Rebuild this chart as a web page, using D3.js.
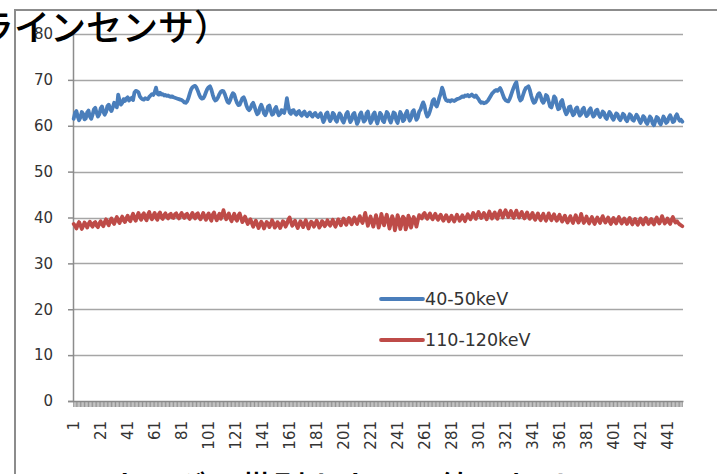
<!DOCTYPE html>
<html><head><meta charset="utf-8">
<script src="https://cdn.jsdelivr.net/npm/d3@7"></script>
<style>
html,body{margin:0;padding:0;background:#fff;overflow:hidden;}
svg{display:block;}
</style></head>
<body>
<svg id="c" width="717" height="474"></svg>
<script>
const seriesNames = ["40-50keV", "110-120keV"];
const seriesColors = ["#4A7EBB", "#BE4B48"];
const yTicks = [0, 10, 20, 30, 40, 50, 60, 70, 80];
const xTickLabels = ["1","21","41","61","81","101","121","141","161","181","201","221","241","261","281","301","321","341","361","381","401","421","441"];
const titleText = "ラインセンサ）";
const footerText = "エネルギー帯別カウント値における";

const blue = [
61.5,62.8,63.2,62.0,61.2,61.8,63.0,62.6,61.4,61.6,62.9,63.3,
62.0,61.5,62.4,63.6,63.9,62.8,62.0,62.5,63.8,64.2,63.0,62.4,63.0,64.3,64.6,
63.6,63.2,64.0,65.0,64.8,64.0,66.8,65.5,64.6,65.0,65.8,
65.4,65.9,66.2,65.5,65.8,66.1,65.6,
67.2,67.6,67.5,67.3,66.4,
66.0,65.8,65.7,66.0,65.9,65.8,66.3,
66.6,66.9,66.7,67.3,68.3,67.0,66.8,67.2,
66.8,66.9,66.6,66.7,66.5,66.6,66.4,66.3,66.4,66.2,66.1,66.0,65.9,65.8,65.7,65.6,65.4,
65.1,65.0,65.3,66.0,67.0,67.9,68.4,68.6,
68.7,
68.3,67.6,66.8,66.2,65.9,66.0,66.5,67.3,68.0,68.4,
68.6,
67.9,66.8,65.9,65.5,65.7,66.2,66.9,67.4,67.6,67.5,
66.9,66.0,65.2,65.0,65.6,66.5,67.1,66.8,65.8,65.0,64.5,
64.6,65.3,66.0,66.2,65.5,64.4,63.7,63.4,63.8,64.6,65.0,
64.2,63.2,62.5,62.8,63.9,64.6,63.8,62.7,62.3,63.0,64.2,64.4,63.3,62.4,62.6,63.6,64.1,63.0,62.3,
62.6,63.4,63.0,62.8,64.0,66.0,64.2,
62.9,62.6,63.3,63.4,62.7,62.4,63.0,63.2,62.5,62.2,62.8,63.1,62.4,62.1,62.6,62.9,62.3,62.0,62.5,62.8,62.2,61.9,
62.3,62.7,61.8,60.8,61.4,62.6,62.9,61.8,61.0,61.6,62.8,62.5,61.3,60.9,61.9,62.7,62.3,61.2,
60.7,61.5,62.6,63.0,61.7,60.8,61.3,62.5,62.8,61.5,60.4,61.0,62.4,62.9,61.8,60.9,61.2,62.7,63.1,61.6,
60.6,61.2,62.5,62.9,61.4,60.5,61.6,62.8,62.4,61.1,60.8,61.9,63.0,62.6,61.3,
60.7,61.7,62.9,62.7,61.2,60.6,61.8,63.0,62.4,61.0,61.3,62.6,63.2,62.0,61.1,61.7,63.0,63.4,62.2,61.3,61.8,63.1,
63.5,64.4,65.1,64.3,62.8,62.0,62.4,63.2,
64.2,65.4,65.8,64.6,64.2,65.0,66.2,67.0,
68.3,
67.5,66.2,65.6,65.4,65.5,65.3,65.6,65.5,65.4,65.6,65.8,65.9,
66.0,66.2,66.4,66.3,66.6,66.5,66.7,66.4,66.6,66.8,66.5,66.3,66.6,66.2,65.8,
65.3,65.0,65.1,64.9,65.0,65.2,65.5,
66.0,66.5,67.0,67.3,67.6,67.8,67.6,67.9,68.2,
67.6,66.8,66.0,65.6,65.4,
65.3,65.8,66.6,67.5,68.3,69.0,69.5,
67.8,66.2,65.5,65.8,66.7,67.6,68.2,68.4,
68.6,
67.8,66.6,65.6,65.0,65.2,66.0,66.8,
67.1,66.5,65.4,65.0,65.6,66.7,66.4,65.3,
64.2,64.0,65.0,66.4,66.0,64.6,63.6,63.8,65.2,65.6,64.3,
63.2,62.5,63.0,64.1,64.2,63.1,62.3,62.6,63.7,64.0,63.0,62.2,62.5,63.6,63.9,62.8,62.1,62.4,63.4,63.8,62.7,62.0,62.3,63.3,63.5,62.5,
61.9,62.4,63.1,62.8,61.8,61.5,62.3,63.0,62.6,61.7,61.3,62.0,62.7,62.5,61.6,61.2,61.8,62.6,62.3,61.4,61.0,61.7,62.5,62.2,61.3,61.1,61.8,62.4,62.0,61.2,
60.6,61.2,62.1,61.8,60.8,60.4,61.2,62.0,61.6,60.5,60.1,61.0,61.9,61.7,60.7,60.3,61.1,62.0,61.5,60.6,60.9,61.8,62.3,61.6,60.8,61.0,62.0,62.5,61.7,61.1,61.3,60.9
];

const red = [
38.6,38.2,37.6,38.4,39.0,38.3,37.5,38.1,38.9,38.5,37.8,38.6,39.1,38.4,38.0,38.8,39.0,38.2,37.9,38.7,
39.2,38.5,38.1,39.0,39.6,38.8,38.3,39.3,39.8,39.0,38.6,39.4,40.1,39.3,38.8,39.6,40.2,39.4,39.0,39.8,40.4,39.5,
39.2,40.1,40.8,39.8,39.3,40.3,41.0,40.1,39.5,40.5,40.9,39.9,39.4,40.6,41.2,40.2,39.6,40.4,41.0,40.0,39.5,40.7,41.1,
40.0,39.7,40.5,40.9,40.1,39.8,40.6,40.8,40.0,39.9,40.7,40.9,40.2,39.8,40.5,41.0,40.3,39.9,40.6,40.8,40.1,39.7,40.4,41.0,40.2,39.8,40.7,40.9,40.0,39.6,
40.3,41.0,40.2,39.5,40.4,40.9,39.9,39.3,40.6,41.1,40.1,39.4,40.2,40.8,39.7,40.5,41.6,40.4,39.6,40.3,40.9,39.8,39.2,40.1,40.8,39.7,39.3,40.4,40.9,39.9,39.0,39.6,40.2,39.3,38.6,39.2,39.6,
38.8,38.0,38.7,39.3,38.5,37.7,38.4,39.1,38.6,37.6,38.3,39.0,38.7,37.9,38.5,39.4,38.8,37.8,38.2,39.0,38.6,37.7,38.4,39.2,38.9,38.0,38.6,39.5,40.0,
39.0,38.2,38.8,39.3,38.4,37.7,38.5,39.2,38.6,37.9,38.7,39.4,38.5,37.6,38.4,39.1,38.8,38.0,38.6,39.3,38.7,37.8,38.3,39.2,38.9,38.1,38.5,39.4,38.8,38.2,
38.9,39.5,38.6,38.0,38.8,39.6,39.0,38.3,39.1,39.8,39.0,38.4,39.2,39.9,39.1,38.5,39.3,40.0,39.2,38.6,39.5,40.3,39.4,38.8,39.7,41.0,39.6,38.2,39.4,40.2,39.0,38.0,39.1,40.5,39.3,37.8,38.9,40.8,39.5,38.3,39.6,40.6,39.2,37.6,
38.8,40.3,39.4,37.2,38.5,40.5,39.6,37.5,38.6,40.2,39.8,37.4,38.3,40.4,39.7,37.8,38.9,40.1,39.2,38.0,39.4,40.5,40.0,
39.8,40.6,41.0,40.2,39.7,40.4,40.9,40.1,39.6,40.3,40.8,40.0,39.5,40.2,
40.6,39.8,39.3,39.9,40.5,39.9,39.2,39.8,40.4,39.7,39.1,39.9,40.6,40.0,39.3,39.8,40.5,39.8,39.2,40.0,40.7,40.1,39.6,
40.3,41.0,40.4,39.7,40.5,41.2,40.6,39.9,40.4,41.0,40.3,39.6,40.5,41.3,40.5,39.8,40.6,41.1,40.2,39.7,40.8,41.5,40.7,40.0,40.9,41.6,40.8,40.1,40.7,41.4,40.5,39.9,40.8,41.5,40.6,40.0,40.7,41.2,40.4,39.8,40.5,41.1,40.3,39.7,
40.4,41.0,40.1,39.5,40.3,40.9,40.0,39.4,40.2,40.8,39.9,39.3,40.1,40.9,40.0,39.4,40.2,40.7,39.8,39.3,40.0,40.6,
39.7,39.1,39.8,40.4,39.5,38.9,39.6,40.3,39.4,38.8,39.7,40.5,39.6,38.9,39.5,40.8,39.7,38.8,39.4,40.2,39.3,38.7,39.5,40.1,39.2,38.6,39.3,40.0,39.4,38.8,39.6,40.3,39.5,38.9,39.4,40.0,39.2,38.6,39.3,39.9,39.1,38.7,39.5,40.1,39.3,
38.7,39.2,39.8,39.1,38.6,39.3,39.9,39.0,38.5,39.2,39.7,38.9,38.4,39.1,39.8,39.0,38.5,39.3,39.9,39.1,38.6,39.2,39.7,38.9,38.5,39.4,40.0,39.2,38.7,39.3,40.3,39.4,38.7,39.1,39.8,39.0,38.6,39.5,40.1,39.3,38.9,39.2,38.8,38.5,38.3,38.1
];

const allSeries = [blue, red];
const N = Math.max(blue.length, red.length);
const categories = d3.range(1, N + 1);

const svg = d3.select("#c");
const plot = {left: 73, right: 683, top: 34, bottom: 401};
const labelFont = "DejaVu Sans, Verdana, sans-serif";

const x = d3.scaleBand().domain(categories).range([plot.left, plot.right]);
const y = d3.scaleLinear().domain([0, 80]).range([plot.bottom, plot.top]);
const cx = d => x(d) + x.bandwidth() / 2;

// frame
svg.append("path")
  .attr("d", `M15,474 L15,10 L717,10`)
  .attr("fill", "none").attr("stroke", "#8c8c8c").attr("stroke-width", 2);

// gridlines
svg.append("g").selectAll("line").data(yTicks.filter(t => t > 0)).join("line")
  .attr("x1", plot.left).attr("x2", plot.right)
  .attr("y1", d => Math.round(y(d)) + 0.5).attr("y2", d => Math.round(y(d)) + 0.5)
  .attr("stroke", "#a6a6a6").attr("stroke-width", 1.5);

// y axis
const yAxis = svg.append("g").attr("transform", `translate(${plot.left},0)`)
  .call(d3.axisLeft(y).tickValues(yTicks).tickSize(5).tickPadding(15));
yAxis.select(".domain").attr("stroke", "#8c8c8c").attr("stroke-width", 1.5);
yAxis.selectAll(".tick line").attr("stroke", "#8c8c8c").attr("stroke-width", 1.5);
yAxis.selectAll("text").attr("font-family", labelFont)
  .attr("font-size", 15).attr("fill", "#333");

// x axis
const xAxis = svg.append("g").attr("transform", `translate(0,${plot.bottom})`)
  .call(d3.axisBottom(x).tickSize(6).tickSizeOuter(0)
    .tickFormat(d => xTickLabels.includes(String(d)) ? String(d) : ""));
xAxis.select(".domain").attr("stroke", "#8c8c8c").attr("stroke-width", 1.5);
xAxis.selectAll(".tick line").attr("stroke", "#888").attr("stroke-width", 0.9);
xAxis.selectAll("text")
  .attr("font-family", labelFont)
  .attr("font-size", 15).attr("fill", "#333")
  .attr("text-anchor", "end")
  .attr("transform", "rotate(-90)")
  .attr("x", -20).attr("y", 0).attr("dy", "0.35em");

// lines
const line = d3.line().x((d, i) => cx(categories[i])).y(d => y(d)).curve(d3.curveLinear);
allSeries.forEach((s, k) => {
  svg.append("path").datum(s)
    .attr("d", line)
    .attr("fill", "none")
    .attr("stroke", seriesColors[k])
    .attr("stroke-width", 3.8)
    .attr("stroke-linejoin", "round")
    .attr("stroke-linecap", "round");
});

// legend
const legendY = [299, 340];
seriesNames.forEach((n, k) => {
  svg.append("line").attr("x1", 381).attr("x2", 423)
    .attr("y1", legendY[k]).attr("y2", legendY[k])
    .attr("stroke", seriesColors[k]).attr("stroke-width", 3.8).attr("stroke-linecap", "round");
  svg.append("text").attr("x", 425).attr("y", legendY[k]).attr("dy", "0.36em")
    .attr("font-family", labelFont)
    .attr("font-size", 17.5).attr("fill", "#333").text(n);
});

// title (cropped slide text)
svg.append("text").attr("x", -22).attr("y", 41)
  .attr("font-family", "Noto Sans CJK JP, sans-serif")
  .attr("font-size", 36).attr("font-weight", 500).attr("fill", "#000")
  .text(titleText);

// footer (cropped)
svg.append("text").attr("x", 75).attr("y", 500)
  .attr("font-family", "Noto Sans CJK JP, sans-serif")
  .attr("font-size", 33).attr("font-weight", 500).attr("fill", "#000")
  .text(footerText);
</script>
</body></html>
